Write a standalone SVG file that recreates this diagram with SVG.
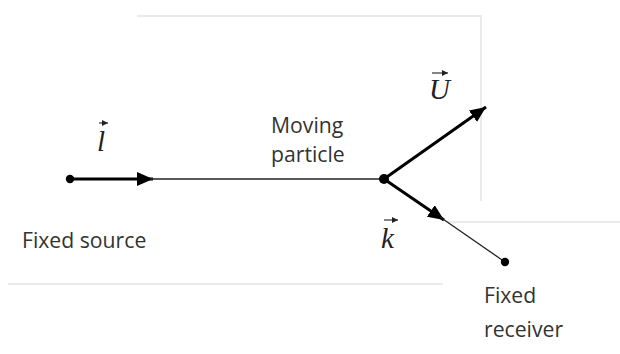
<svg xmlns="http://www.w3.org/2000/svg" width="620" height="354" viewBox="0 0 620 354">
  <defs>
    <marker id="head" viewBox="0 0 16 14" refX="16" refY="7" markerWidth="16" markerHeight="14" markerUnits="userSpaceOnUse" orient="auto">
      <path d="M0,0 L16,7 L0,14 z" fill="#000"/>
    </marker>
    <marker id="acc" viewBox="0 0 6 6" refX="6" refY="3" markerWidth="6" markerHeight="6" markerUnits="userSpaceOnUse" orient="auto">
      <path d="M0,0 L6,3 L0,6 z" fill="#222"/>
    </marker>
    <style>
      .frame { stroke: #e4e4e4; stroke-width: 1.5; fill: none; }
      .thick { stroke: #000; stroke-width: 3; fill: none; }
      .thin { stroke: #222; stroke-width: 1.3; fill: none; }
      .dot { fill: #000; }
      .lbl { font-family: "Open Sans", "Noto Sans", "Liberation Sans", sans-serif; font-size: 21.2px; fill: #333; }
      .vec { font-family: "Liberation Serif", "DejaVu Serif", serif; font-style: italic; font-size: 29px; fill: #222; }
      .accent { stroke: #222; stroke-width: 1.1; fill: none; }
    </style>
  </defs>

  <g id="frame-lines">
    <path class="frame" d="M137,16 L481,16 L481,201"/>
    <path class="frame" d="M447,222 L620,222"/>
    <path class="frame" d="M8,284 L443,284"/>
  </g>

  <g id="connectors">
    <line class="thick" x1="70" y1="179" x2="153" y2="179" marker-end="url(#head)"/>
    <line class="thin" x1="150" y1="179" x2="384" y2="179"/>
    <line class="thick" x1="384" y1="179" x2="486" y2="107" marker-end="url(#head)"/>
    <line class="thick" x1="384" y1="179" x2="444" y2="220" marker-end="url(#head)"/>
    <line class="thin" x1="440" y1="217" x2="505" y2="262"/>
  </g>

  <g id="source">
    <circle class="dot" cx="70" cy="179" r="4.2"/>
    <text class="lbl" x="22" y="248">Fixed source</text>
  </g>

  <g id="particle">
    <circle class="dot" cx="384" cy="179" r="5"/>
    <text class="lbl" x="271" y="133">Moving</text>
    <text class="lbl" x="271" y="162">particle</text>
  </g>

  <g id="receiver">
    <circle class="dot" cx="505" cy="262" r="4.2"/>
    <text class="lbl" x="484" y="303">Fixed</text>
    <text class="lbl" x="484" y="337">receiver</text>
  </g>

  <g id="label-l">
    <text class="vec" x="97" y="151">l</text>
    <line class="accent" x1="99" y1="123" x2="108" y2="123" marker-end="url(#acc)"/>
  </g>

  <g id="label-U">
    <text class="vec" x="429" y="99">U</text>
    <line class="accent" x1="432" y1="73" x2="448" y2="73" marker-end="url(#acc)"/>
  </g>

  <g id="label-k">
    <text class="vec" x="381" y="248">k</text>
    <line class="accent" x1="384" y1="220" x2="398" y2="220" marker-end="url(#acc)"/>
  </g>
</svg>
